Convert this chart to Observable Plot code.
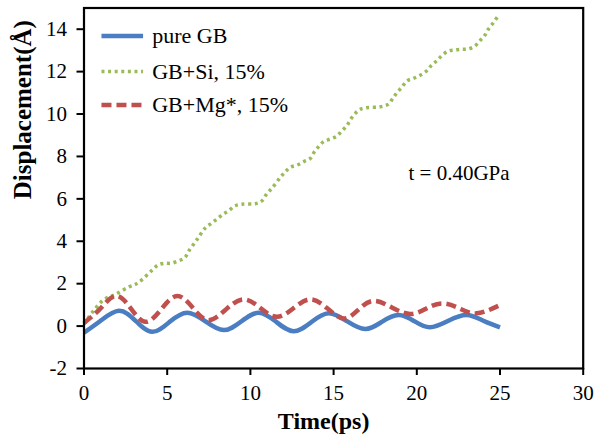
<!DOCTYPE html>
<html>
<head>
<meta charset="utf-8">
<script src="https://cdn.jsdelivr.net/npm/d3@7"></script>
<script src="https://cdn.jsdelivr.net/npm/@observablehq/plot@0.6"></script>
<style>
  html, body { margin: 0; padding: 0; background: #fff; }
</style>
</head>
<body>
<div id="chart"></div>
<script>
// Time (ps) and displacement (Å) for each grain-boundary system
const pureTime = [0, 1.0, 2.1, 3.1, 4.1, 5.15, 6.2, 7.3, 8.4, 9.45, 10.5, 11.55, 12.6, 13.65, 14.7, 15.8, 16.9, 17.9, 18.9, 19.85, 20.8, 21.9, 23.0, 24.0, 25.0];
const pureDisp = [-0.31, 0.25, 0.72, 0.25, -0.27, 0.2, 0.63, 0.22, -0.19, 0.22, 0.63, 0.2, -0.24, 0.18, 0.6, 0.23, -0.14, 0.2, 0.52, 0.23, -0.06, 0.25, 0.52, 0.25, -0.06];

const siTime = [0, 0.6, 1.2, 1.9, 2.7, 3.1, 3.5, 4.1, 4.45, 4.8, 5.25, 5.65, 6.05, 6.3, 6.8, 7.3, 7.65, 8.0, 8.35, 8.7, 9.05, 9.5, 10.3, 10.7, 11.0, 11.3, 11.8, 12.1, 12.4, 12.8, 13.2, 13.6, 13.85, 14.1, 14.4, 14.8, 15.2, 15.5, 15.8, 16.0, 16.3, 16.6, 17.0, 17.8, 18.3, 18.56, 18.8, 19.1, 19.4, 19.8, 20.2, 20.6, 20.9, 21.2, 21.5, 21.9, 22.3, 22.7, 23.1, 23.5, 23.8, 24.1, 24.3, 24.6, 24.9];
const siDisp = [0.1, 0.75, 1.25, 1.5, 1.85, 1.97, 2.2, 2.64, 2.88, 2.96, 2.96, 3.07, 3.22, 3.54, 4.09, 4.64, 4.84, 5.05, 5.27, 5.44, 5.66, 5.75, 5.77, 5.91, 6.26, 6.5, 7.01, 7.28, 7.49, 7.59, 7.75, 7.91, 8.22, 8.46, 8.7, 8.82, 8.96, 9.21, 9.45, 9.72, 10.03, 10.22, 10.3, 10.34, 10.47, 10.74, 11.0, 11.26, 11.56, 11.68, 11.83, 12.04, 12.31, 12.51, 12.75, 12.97, 13.02, 13.05, 13.07, 13.21, 13.46, 13.73, 14.0, 14.3, 14.65];

const mgTime = [0, 0.95, 1.9, 2.8, 3.7, 4.65, 5.6, 6.55, 7.5, 8.55, 9.6, 10.6, 11.6, 12.6, 13.6, 14.6, 15.6, 16.5, 17.4, 18.5, 19.6, 20.55, 21.5, 22.55, 23.6, 25.0];
const mgDisp = [0.15, 0.8, 1.42, 0.85, 0.2, 0.8, 1.42, 0.85, 0.28, 0.8, 1.26, 0.85, 0.44, 0.85, 1.26, 0.85, 0.36, 0.78, 1.19, 0.88, 0.57, 0.82, 1.07, 0.84, 0.6, 0.99];

// Series names and axis ticks
const seriesNames = ["pure GB", "GB+Si, 15%", "GB+Mg*, 15%"];
const xTicks = [0, 5, 10, 15, 20, 25, 30];
const yTicks = [-2, 0, 2, 4, 6, 8, 10, 12, 14];
const xTitle = "Time(ps)";
const yTitle = "Displacement(Å)";
const note = "t = 0.40GPa";

// Line appearance per series
const colors = ["#4a7dc1", "#9bbb59", "#c0504d"];
const widths = [4.5, 3.5, 4.5];
const dashes = [null, "3,3.6", "10,5"];
const curves = ["natural", "catmull-rom", "natural"];

// Legend layout, expressed in axis units
const legendSwatchX = [1.05, 3.55];
const legendTextX = 4.1;
const legendY = [13.68, 12.0, 10.42];
const noteX = 19.5;
const noteY = 7.22;

const toRows = (t, d) => t.map((x, i) => ({x, y: d[i]}));
const series = [toRows(pureTime, pureDisp), toRows(siTime, siDisp), toRows(mgTime, mgDisp)];

const font = "Liberation Serif, Times New Roman, serif";

const marks = [];
series.forEach((rows, i) => {
  marks.push(Plot.line(rows, {
    x: "x", y: "y",
    stroke: colors[i], strokeWidth: widths[i],
    strokeDasharray: dashes[i] ?? undefined,
    strokeLinecap: "butt",
    curve: curves[i]
  }));
});

// Legend swatches and labels
seriesNames.forEach((name, i) => {
  marks.push(Plot.link([0], {
    x1: () => legendSwatchX[0], x2: () => legendSwatchX[1],
    y1: () => legendY[i], y2: () => legendY[i],
    stroke: colors[i], strokeWidth: widths[i],
    strokeDasharray: dashes[i] ?? undefined
  }));
  marks.push(Plot.text([name], {
    x: () => legendTextX, y: () => legendY[i], text: d => d,
    textAnchor: "start", lineAnchor: "middle",
    fontSize: 22, fill: "black"
  }));
});

marks.push(Plot.text([note], {
  x: () => noteX, y: () => noteY, text: d => d,
  textAnchor: "start", lineAnchor: "middle", fontSize: 21, fill: "black"
}));

// Axes
marks.push(Plot.axisX({
  ticks: xTicks, tickSize: 7, tickPadding: 10, strokeWidth: 2,
  tickFormat: d => `${d}`, fontSize: 21, label: null, color: "black"
}));
marks.push(Plot.axisY({
  ticks: yTicks, tickSize: 7, tickPadding: 10, strokeWidth: 2,
  tickFormat: d => `${d}`, fontSize: 21, label: null, color: "black"
}));
marks.push(Plot.frame({stroke: "black", strokeWidth: 2.2}));

// Axis titles
marks.push(Plot.text([xTitle], {
  frameAnchor: "bottom", text: d => d, dx: -10, dy: 53,
  lineAnchor: "middle", fontSize: 24, fontWeight: "bold", fill: "black"
}));
marks.push(Plot.text([yTitle], {
  frameAnchor: "left", text: d => d, rotate: -90, dx: -61, dy: 11,
  lineAnchor: "middle", fontSize: 25, fontWeight: "bold", fill: "black"
}));

const chart = Plot.plot({
  width: 595,
  height: 439,
  marginLeft: 83.5,
  marginRight: 12.3,
  marginTop: 7.5,
  marginBottom: 71,
  style: {fontFamily: font, background: "white", color: "black"},
  x: {domain: [0, 30]},
  y: {domain: [-2, 15]},
  marks
});
document.getElementById("chart").appendChild(chart);
</script>
</body>
</html>
